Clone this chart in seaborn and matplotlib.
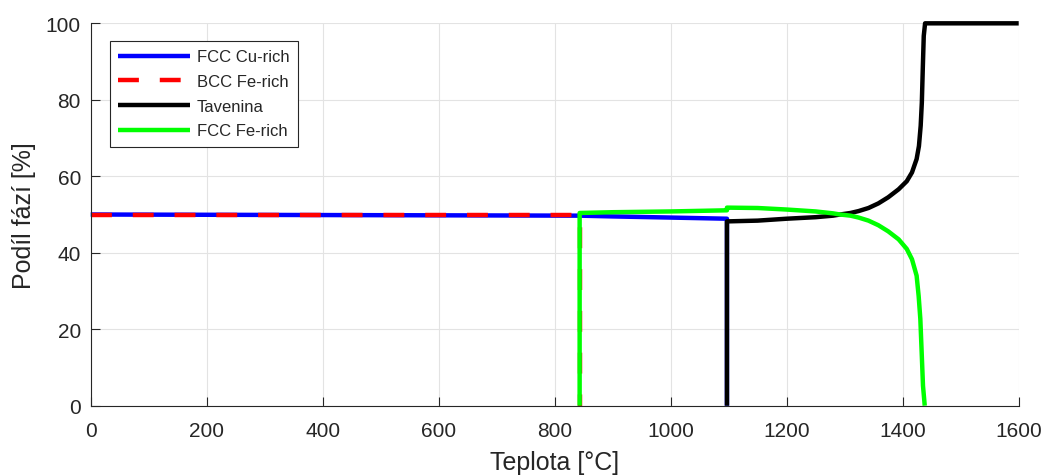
import matplotlib
matplotlib.use("Agg")
import matplotlib.pyplot as plt
import seaborn as sns
import pandas as pd

# phase fractions
t_fcc_cu = [0, 843, 900, 1000, 1097, 1097]
fcc_cu = [50.0, 49.7, 49.5, 49.2, 48.9, 0.0]

t_bcc_fe = [0, 843, 843]
bcc_fe = [50.0, 50.0, 0.0]

t_tavenina = [1097, 1097, 1150, 1200, 1250, 1280, 1292, 1310, 1324, 1341, 1358,
              1375, 1393, 1407, 1416, 1424, 1428, 1431, 1433, 1434.6, 1436.3,
              1438.6, 1600]
tavenina = [0.0, 48.2, 48.4, 48.9, 49.3, 49.7, 50.0, 50.4, 50.9, 51.7, 52.9,
            54.5, 56.6, 58.7, 61.0, 64.5, 67.9, 73.2, 79.3, 88.0, 96.7,
            100.0, 100.0]

t_fcc_fe = [843, 843, 900, 1000, 1097, 1097, 1150, 1200, 1250, 1280, 1292,
            1310, 1324, 1341, 1358, 1375, 1393, 1407, 1416, 1424, 1427.5,
            1430.4, 1432.7, 1435, 1438]
fcc_fe = [0.0, 50.4, 50.6, 50.8, 51.1, 51.8, 51.7, 51.3, 50.8, 50.3, 50.0,
          49.7, 49.2, 48.4, 47.2, 45.6, 43.5, 41.0, 38.3, 34.0, 28.7,
          22.7, 14.0, 5.2, 0.0]

phases = ["FCC Cu-rich", "BCC Fe-rich", "Tavenina", "FCC Fe-rich"]
colors = {"FCC Cu-rich": "#0000ff", "BCC Fe-rich": "#ff0000",
          "Tavenina": "#000000", "FCC Fe-rich": "#00ff00"}
dash_map = {"FCC Cu-rich": "", "BCC Fe-rich": (4.7, 4.7),
            "Tavenina": "", "FCC Fe-rich": ""}

frames = []
for name, t, v in zip(phases, [t_fcc_cu, t_bcc_fe, t_tavenina, t_fcc_fe],
                      [fcc_cu, bcc_fe, tavenina, fcc_fe]):
    frames.append(pd.DataFrame({"T": t, "podil": v, "faze": name}))
df = pd.concat(frames, ignore_index=True)

sns.set_theme(style="ticks")
plt.rcParams["font.family"] = ["Liberation Sans", "DejaVu Sans"]
dark = "#262626"

fig = plt.figure(figsize=(10.46, 4.77), dpi=100)
ax = fig.add_axes([0.0867, 0.1474, 0.8872, 0.8016])

sns.lineplot(data=df, x="T", y="podil", hue="faze", style="faze",
             hue_order=phases, style_order=phases, palette=colors,
             dashes=dash_map, sort=False, estimator=None, units="faze",
             lw=3.2, ax=ax)
for line in ax.lines:
    line.set_clip_on(False)
    line.set_solid_capstyle("butt")
    line.set_dash_capstyle("butt")
    line.set_solid_joinstyle("round")

ax.set_xlim(0, 1600)
ax.set_ylim(0, 100)
ax.set_xticks(range(0, 1601, 200))
ax.set_yticks(range(0, 101, 20))
ax.grid(True, color="#e3e3e3", lw=0.8)
ax.set_axisbelow(True)
for s in ["top", "right"]:
    ax.spines[s].set_visible(False)
for s in ["left", "bottom"]:
    ax.spines[s].set_color(dark)
    ax.spines[s].set_linewidth(0.8)
ax.tick_params(direction="in", length=6.5, width=0.8, color=dark,
               labelcolor=dark, labelsize=15)
ax.tick_params(axis="x", pad=11)
ax.tick_params(axis="y", pad=7)

ax.set_xlabel("Teplota [°C]", fontsize=18, color=dark, labelpad=7)
ax.set_ylabel("Podíl fází [%]", fontsize=18, color=dark, labelpad=7)

handles, labels = ax.get_legend_handles_labels()
leg = ax.legend(handles, labels, loc="upper left",
                bbox_to_anchor=(0.0208, 0.9537), borderaxespad=0,
                fontsize=12, handlelength=4.3, handletextpad=0.4,
                labelspacing=0.58, borderpad=0.5, fancybox=False,
                framealpha=1, edgecolor=dark)
leg.get_frame().set_linewidth(0.8)
for h in leg.get_lines():
    h.set_linewidth(3.2)

plt.savefig("out.png", dpi=100)
